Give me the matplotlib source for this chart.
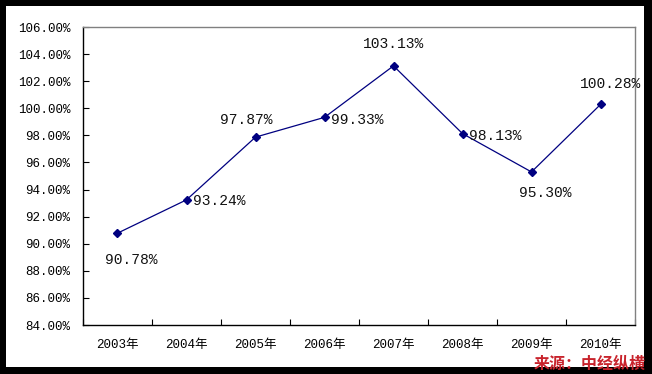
import matplotlib.pyplot as plt
from matplotlib.patches import Rectangle

plt.rcParams['font.family'] = ['Liberation Mono', 'Noto Sans CJK SC']

years = ['2003年', '2004年', '2005年', '2006年', '2007年', '2008年', '2009年', '2010年']
values = [90.78, 93.24, 97.87, 99.33, 103.13, 98.13, 95.30, 100.28]
label_dx = [10, 5, -7, 5, 0, 5, 10, 7]
label_dy = [-19, -1, 12, -2, 16, -2, -15, 15]
label_ha = ['center', 'left', 'center', 'left', 'center', 'left', 'center', 'center']
yticks = [84, 86, 88, 90, 92, 94, 96, 98, 100, 102, 104, 106]

W, H = 652, 374
fig = plt.figure(figsize=(W / 100, H / 100), dpi=100, facecolor='black')

# white card inside the black frame
fig.patches.append(Rectangle((6 / W, 1 - 367 / H), (644 - 6) / W, (367 - 6) / H,
                             transform=fig.transFigure, facecolor='white',
                             edgecolor='none', zorder=-1))

ax = fig.add_axes([83 / W, 1 - 325 / H, (635 - 83) / W, (325 - 27) / H])
ax.set_zorder(2)
ax.set_facecolor('white')

x = list(range(len(years)))
ax.plot(x, values, color='#000080', linewidth=0.9, marker='D', markersize=4,
        markerfacecolor='#000080', markeredgecolor='#000080')

for xi, v, dx, dy, ha in zip(x, values, label_dx, label_dy, label_ha):
    ax.annotate('%.2f%%' % v, (xi, v), xytext=(dx, dy), textcoords='offset points',
                ha=ha, va='center', fontsize=10.5, color='#111111')

ax.set_xlim(-0.5, len(years) - 0.5)
ax.set_ylim(84, 106)
ax.set_yticks(yticks)
ax.set_yticklabels(['%.2f%%' % t for t in yticks], fontsize=9)
ax.set_xticks(x)
ax.set_xticklabels(years, fontsize=9)
ax.set_xticks([i - 0.5 for i in range(len(years) + 1)], minor=True)

ax.tick_params(axis='y', direction='in', length=4, width=0.8, pad=9)
ax.tick_params(axis='x', which='major', length=0, pad=10)
ax.tick_params(axis='x', which='minor', direction='in', length=4, width=0.8)

for side in ['left', 'bottom']:
    ax.spines[side].set_color('black')
    ax.spines[side].set_linewidth(1.0)
for side in ['top', 'right']:
    ax.spines[side].set_color('#808080')
    ax.spines[side].set_linewidth(1.0)

src = fig.text(646 / W, 1 - 364 / H, '来源：中经纵横', color='#c8232c', fontsize=11.5,
               fontweight='bold', ha='right', va='center',
               family=['Noto Sans CJK SC'])
src.set_zorder(5)

fig.savefig('out.png', dpi=100, facecolor='black')
